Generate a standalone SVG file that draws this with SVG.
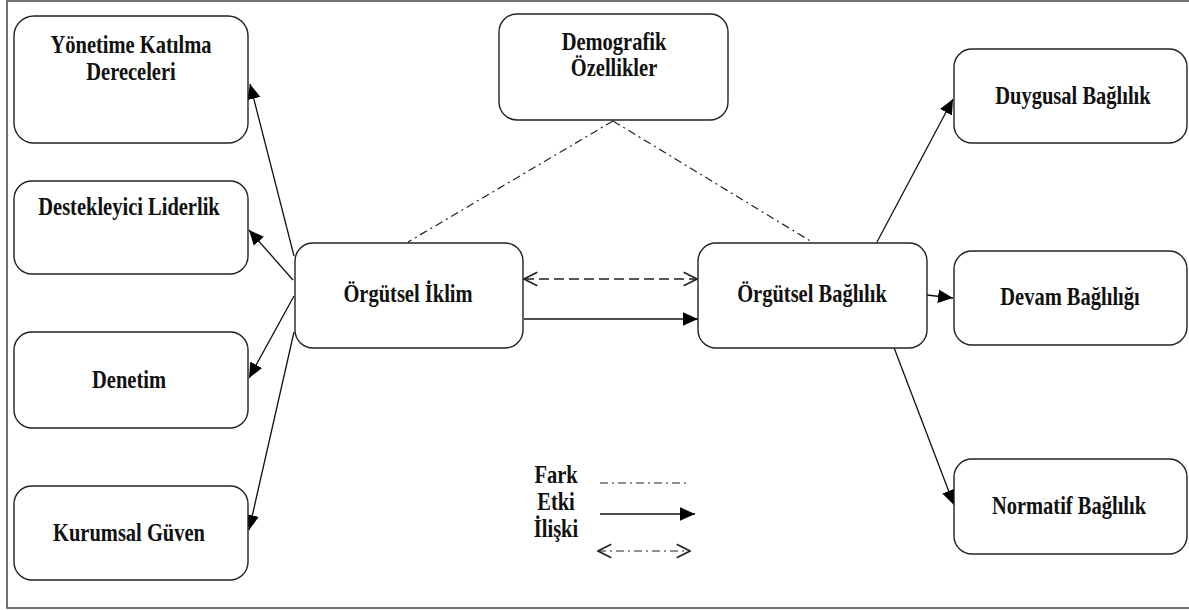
<svg xmlns="http://www.w3.org/2000/svg" width="1189" height="610" viewBox="0 0 1189 610">
<style>
.box{fill:#fff;stroke:#222;stroke-width:1.4}
.t{font-family:'Liberation Serif','Times New Roman','DejaVu Serif',serif;font-weight:700;font-size:20.5px;fill:#111;text-anchor:middle}
.ln{stroke:#111;stroke-width:1.3;fill:none}
.dd{stroke:#222;stroke-width:1.2;fill:none;stroke-dasharray:8 4 2 4}
.ds{stroke:#222;stroke-width:1.4;fill:none;stroke-dasharray:10 5}
</style>
<defs>
<marker id="fa" viewBox="0 0 10 10" refX="10" refY="5" markerWidth="15" markerHeight="15" markerUnits="userSpaceOnUse" orient="auto">
<path d="M0,0.5 L10,5 L0,9.5 Z" fill="#000"/>
</marker>
<marker id="oa" viewBox="0 0 12 12" refX="11" refY="6" markerWidth="16" markerHeight="16" markerUnits="userSpaceOnUse" orient="auto-start-reverse">
<path d="M1,1 L11,6 L1,11" fill="none" stroke="#222" stroke-width="1.2"/>
</marker>
</defs>
<rect x="7" y="1" width="1195" height="607" fill="#fff" stroke="#444" stroke-width="1.5"/>
<g id="connectors">
<line class="ln" x1="294" y1="256" x2="250" y2="84" marker-end="url(#fa)"/>
<line class="ln" x1="293" y1="280" x2="249" y2="230" marker-end="url(#fa)"/>
<line class="ln" x1="294" y1="296" x2="249" y2="378" marker-end="url(#fa)"/>
<line class="ln" x1="294" y1="332" x2="249" y2="530" marker-end="url(#fa)"/>
<line class="dd" x1="613" y1="121" x2="408" y2="242"/>
<line class="dd" x1="613" y1="121" x2="812" y2="242"/>
<line class="ds" x1="524" y1="279" x2="697" y2="279" marker-start="url(#oa)" marker-end="url(#oa)"/>
<line class="ln" x1="524" y1="319" x2="698" y2="319" marker-end="url(#fa)"/>
<line class="ln" x1="877" y1="242" x2="953" y2="99" marker-end="url(#fa)"/>
<line class="ln" x1="927" y1="295" x2="953" y2="298" marker-end="url(#fa)"/>
<line class="ln" x1="893" y1="345" x2="954" y2="505" marker-end="url(#fa)"/>
</g>
<g id="n-yonetime"><rect class="box" x="14" y="16" width="234" height="127" rx="20"/><text class="t" transform="translate(131,53) scale(1,1.2)">Yönetime Katılma</text><text class="t" transform="translate(131,80) scale(1,1.2)">Dereceleri</text></g>
<g id="n-destek"><rect class="box" x="14" y="181" width="234" height="93" rx="18"/><text class="t" transform="translate(129,215) scale(1,1.2)">Destekleyici Liderlik</text></g>
<g id="n-denetim"><rect class="box" x="14" y="332" width="234" height="96" rx="18"/><text class="t" transform="translate(129,388) scale(1,1.2)">Denetim</text></g>
<g id="n-kurumsal"><rect class="box" x="14" y="486" width="234" height="94" rx="18"/><text class="t" transform="translate(129,541) scale(1,1.2)">Kurumsal Güven</text></g>
<g id="n-demografik"><rect class="box" x="499" y="14" width="229" height="106" rx="18"/><text class="t" transform="translate(614,50) scale(1,1.2)">Demografik</text><text class="t" transform="translate(614,76) scale(1,1.2)">Özellikler</text></g>
<g id="n-iklim"><rect class="box" x="295" y="243" width="228" height="105" rx="18"/><text class="t" transform="translate(408,302) scale(1,1.2)">Örgütsel İklim</text></g>
<g id="n-baglilik"><rect class="box" x="698" y="243" width="229" height="105" rx="18"/><text class="t" transform="translate(812,302) scale(1,1.2)">Örgütsel Bağlılık</text></g>
<g id="n-duygusal"><rect class="box" x="954" y="49" width="233" height="94" rx="18"/><text class="t" transform="translate(1073,104) scale(1,1.2)">Duygusal Bağlılık</text></g>
<g id="n-devam"><rect class="box" x="954" y="251" width="233" height="94" rx="18"/><text class="t" transform="translate(1070,305) scale(1,1.2)">Devam Bağlılığı</text></g>
<g id="n-normatif"><rect class="box" x="954" y="459" width="233" height="95" rx="18"/><text class="t" transform="translate(1069,514) scale(1,1.2)">Normatif Bağlılık</text></g>
<g id="legend">
<text class="t" transform="translate(556,483) scale(1,1.2)">Fark</text>
<text class="t" transform="translate(556,510) scale(1,1.2)">Etki</text>
<text class="t" transform="translate(556,537) scale(1,1.2)">İlişki</text>
<line class="dd" x1="600" y1="483" x2="688" y2="483"/>
<line class="ln" x1="600" y1="514" x2="695" y2="514" marker-end="url(#fa)"/>
<line class="dd" x1="598" y1="551" x2="690" y2="551" marker-start="url(#oa)" marker-end="url(#oa)"/>
</g>
</svg>
